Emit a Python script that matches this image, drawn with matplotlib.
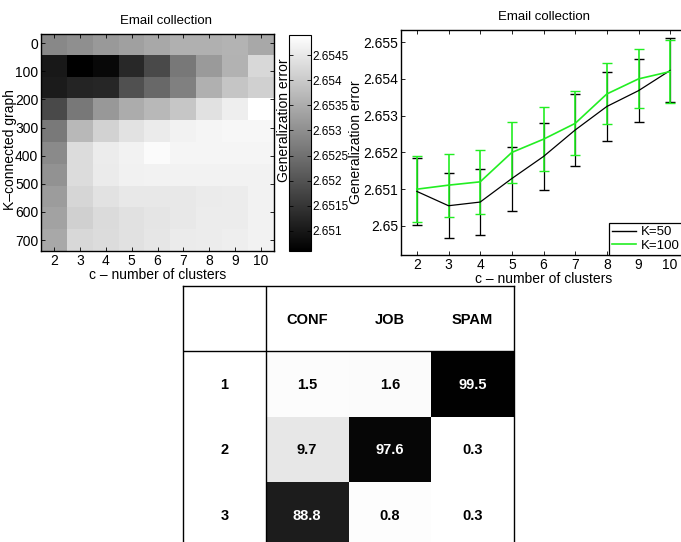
import matplotlib
matplotlib.use('Agg')
import matplotlib.pyplot as plt
from matplotlib.lines import Line2D
import numpy as np

plt.rcParams['font.family'] = ['Liberation Sans', 'DejaVu Sans']

# heatmap: generalization error, rows = K of the K-connected graph, cols = c
clusters = [2, 3, 4, 5, 6, 7, 8, 9, 10]
k_ticks = [0, 100, 200, 300, 400, 500, 600, 700]
gen_error = [
    [2.65289, 2.65301, 2.65318, 2.65330, 2.65343, 2.65357, 2.65357, 2.65364, 2.65343],
    [2.65101, 2.65060, 2.65074, 2.65128, 2.65185, 2.65262, 2.65320, 2.65360, 2.65424],
    [2.65107, 2.65121, 2.65124, 2.65195, 2.65235, 2.65276, 2.65357, 2.65391, 2.65411],
    [2.65185, 2.65262, 2.65316, 2.65350, 2.65370, 2.65394, 2.65438, 2.65461, 2.65490],
    [2.65266, 2.65370, 2.65414, 2.65441, 2.65455, 2.65468, 2.65472, 2.65475, 2.65475],
    [2.65293, 2.65431, 2.65458, 2.65468, 2.65482, 2.65472, 2.65472, 2.65472, 2.65472],
    [2.65306, 2.65431, 2.65455, 2.65465, 2.65468, 2.65468, 2.65468, 2.65468, 2.65468],
    [2.65323, 2.65421, 2.65441, 2.65451, 2.65451, 2.65451, 2.65455, 2.65458, 2.65468],
    [2.65333, 2.65411, 2.65428, 2.65438, 2.65445, 2.65451, 2.65458, 2.65458, 2.65468],
    [2.65343, 2.65424, 2.65431, 2.65438, 2.65448, 2.65455, 2.65458, 2.65461, 2.65468],
]
cbar_ticks = [2.651, 2.6515, 2.652, 2.6525, 2.653, 2.6535, 2.654, 2.6545]
cbar_labels = ['2.651', '2.6515', '2.652', '2.6525', '2.653', '2.6535', '2.654', '2.6545']

# line plot
k50_mean = [2.65094, 2.65055, 2.65065, 2.65129, 2.65189, 2.65261, 2.65325, 2.65368, 2.65423]
k50_err = [0.00092, 0.00089, 0.00090, 0.00087, 0.00090, 0.00098, 0.00095, 0.00086, 0.00087]
k100_mean = [2.65100, 2.65111, 2.65120, 2.65200, 2.65236, 2.65279, 2.65359, 2.65400, 2.65420]
k100_err = [0.00090, 0.00086, 0.00087, 0.00082, 0.00087, 0.00087, 0.00083, 0.00080, 0.00085]
line_yticks = [2.650, 2.651, 2.652, 2.653, 2.654, 2.655]
line_ylabels = ['2.65', '2.651', '2.652', '2.653', '2.654', '2.655']

# confusion table (percent)
tab_cols = ['CONF', 'JOB', 'SPAM']
tab_rows = ['1', '2', '3']
tab_vals = [
    [1.5, 1.6, 99.5],
    [9.7, 97.6, 0.3],
    [88.8, 0.8, 0.3],
]

W, H = 681, 542
fig = plt.figure(figsize=(W / 100, H / 100), dpi=100)


def box(l, t, r, b):
    # pixel box -> figure fraction
    return [l / W, 1 - b / H, (r - l) / W, (b - t) / H]


# ---------------- heatmap ----------------
ax1 = fig.add_axes(box(41, 34, 274, 251))
im = ax1.imshow(np.array(gen_error), cmap='gray', aspect='auto',
                interpolation='nearest', vmin=2.6506, vmax=2.6549,
                extent=[1.5, 10.5, 739, -33])
ax1.set_xticks(clusters)
ax1.set_yticks(k_ticks)
ax1.tick_params(direction='in', top=True, right=True, labelsize=10,
                pad=2, length=3, width=0.6)
for s in ax1.spines.values():
    s.set_linewidth(1.0)
ax1.set_xlabel('c \u2013 number of clusters', fontsize=10, labelpad=0.5)
fig.text(10 / W, 1 - 150 / H, 'K\u2013connected graph', rotation=90,
         fontsize=10, ha='center', va='center')
fig.text(166 / W, 1 - 21 / H, 'Email collection', fontsize=9.5,
         ha='center', va='center')

cax = fig.add_axes(box(289, 35, 311, 251))
cb = fig.colorbar(im, cax=cax)
cb.set_ticks(cbar_ticks)
cb.set_ticklabels(cbar_labels)
cax.tick_params(direction='in', left=True, right=True, labelsize=8.5,
                pad=1, length=3, width=0.6)
cb.outline.set_linewidth(0.8)
fig.text(284 / W, 1 - 120 / H, 'Generalization error', rotation=90,
         fontsize=10, ha='center', va='center')

# ---------------- line plot ----------------
ax2 = fig.add_axes(box(401, 30, 686, 255))
ax2.errorbar(clusters, k50_mean, yerr=k50_err, color='black', lw=0.9,
             elinewidth=0.9, capsize=3.5)
ax2.errorbar(clusters, k100_mean, yerr=k100_err, color='#22ee22', lw=1.2,
             elinewidth=1.2, capsize=3.5)
ax2.set_xlim(1.5, 10.5)
ax2.set_ylim(2.64921, 2.65533)
ax2.set_xticks(clusters)
ax2.set_yticks(line_yticks)
ax2.set_yticklabels(line_ylabels)
ax2.tick_params(direction='in', top=True, right=True, labelsize=10,
                pad=2, length=3, width=0.6)
for s in ax2.spines.values():
    s.set_linewidth(1.0)
ax2.set_xlabel('c \u2013 number of clusters', fontsize=10, labelpad=0.5)
ax2.set_ylabel('Generalization error', fontsize=10, labelpad=0)
ax2.set_title('Email collection', fontsize=9.5, pad=7)
handles = [Line2D([], [], color='black', lw=1.0),
           Line2D([], [], color='#22ee22', lw=1.2)]
leg = ax2.legend(handles, ['K=50', 'K=100'], loc='lower right', fontsize=9.5,
                 frameon=True, fancybox=False, borderaxespad=0,
                 borderpad=0.25, labelspacing=0.1, handlelength=1.8,
                 handletextpad=0.4, bbox_to_anchor=(0.99, 0.0))
leg.get_frame().set_edgecolor('black')
leg.get_frame().set_linewidth(0.9)
leg.get_frame().set_alpha(1)

# ---------------- table ----------------
ax3 = fig.add_axes(box(183, 286, 514, 547))
vals = np.array(tab_vals)
ax3.pcolormesh(np.arange(1, 5), np.arange(1, 5), vals, cmap='gray_r',
               vmin=0, vmax=100)
ax3.set_xlim(0, 4)
ax3.set_ylim(4, 0)
ax3.set_xticks([])
ax3.set_yticks([])
for s in ax3.spines.values():
    s.set_linewidth(1.0)
ax3.axvline(1, color='black', lw=1.0)
ax3.axhline(1, color='black', lw=1.0)
for j, c in enumerate(tab_cols):
    ax3.text(j + 1.5, 0.52, c, ha='center', va='center', fontsize=10.5,
             fontweight='bold')
for i, r in enumerate(tab_rows):
    ax3.text(0.5, i + 1.52, r, ha='center', va='center', fontsize=10.5,
             fontweight='bold')
    for j in range(len(tab_cols)):
        v = tab_vals[i][j]
        ax3.text(j + 1.5, i + 1.52, '%.1f' % v, ha='center', va='center',
                 fontsize=10.5, fontweight='bold',
                 color='white' if v > 50 else 'black')

fig.savefig('out.png', dpi=100)
